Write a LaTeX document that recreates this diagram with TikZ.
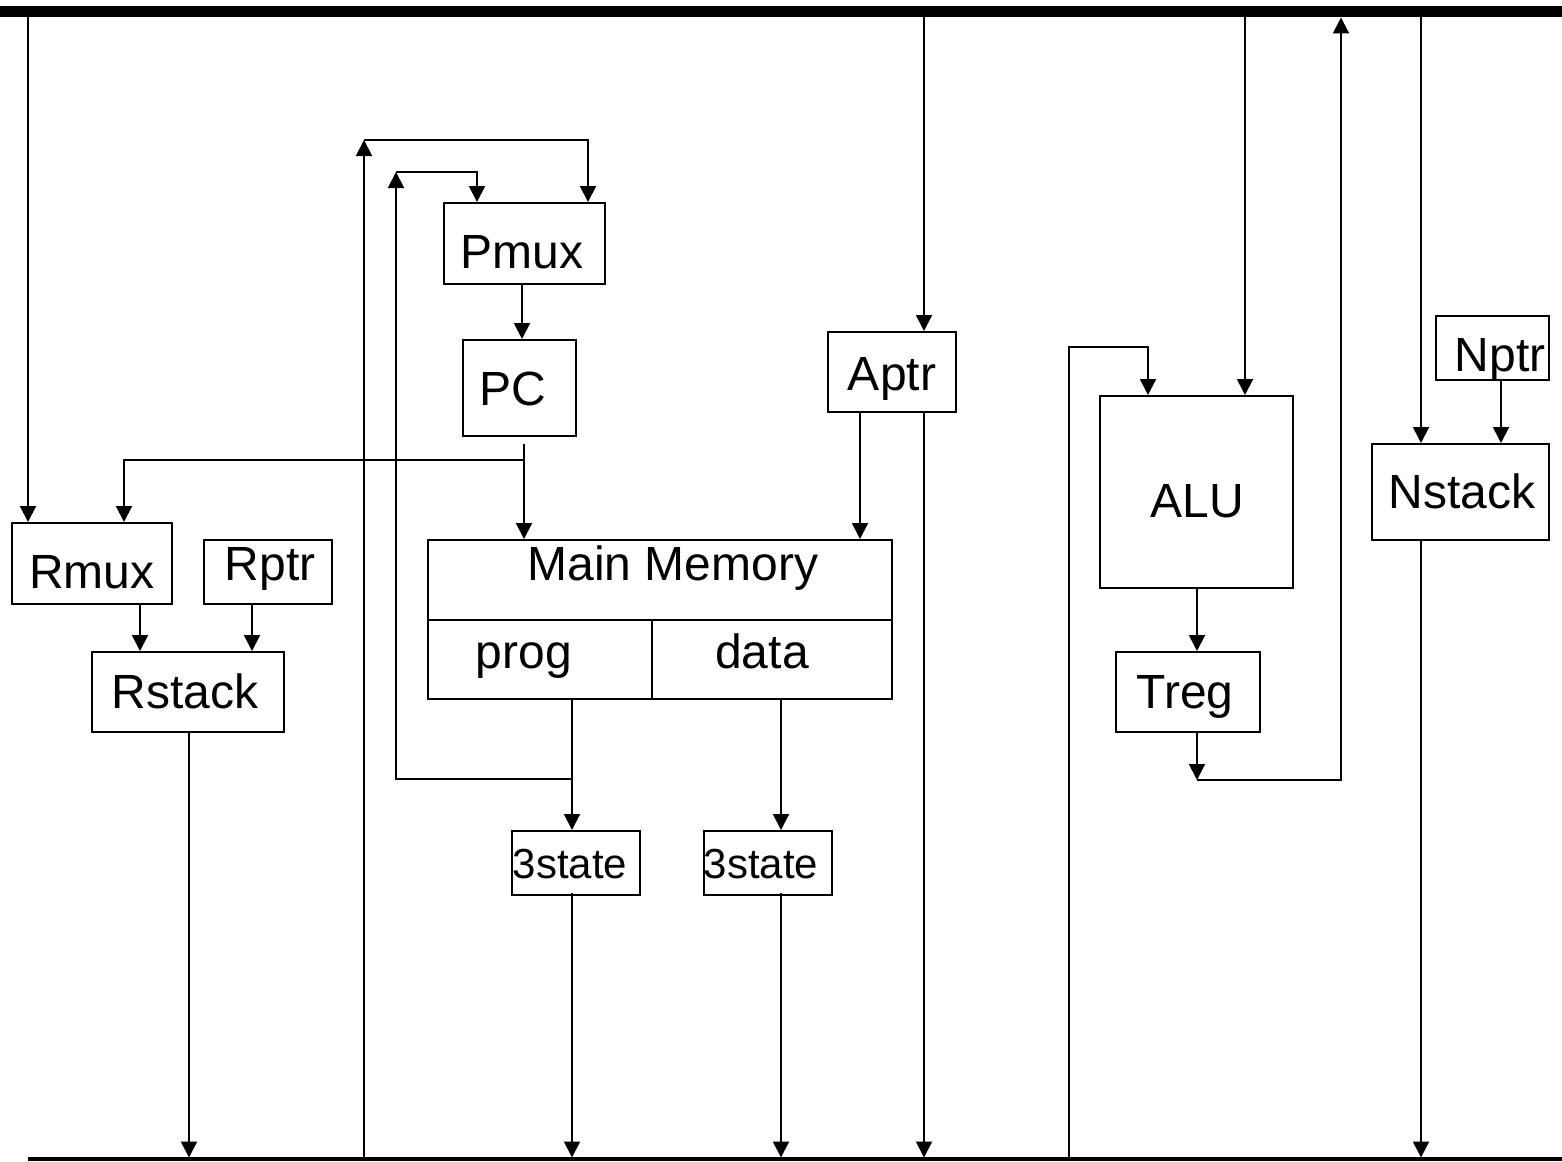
\documentclass[tikz,border=0pt]{standalone}
\usepackage{fontspec}
\setmainfont{Liberation Sans}
\usetikzlibrary{arrows.meta}
\begin{document}
\begin{tikzpicture}[x=0.5pt,y=-0.5pt,
  box/.style={draw,line width=1pt,inner sep=0pt,rectangle},
  lbl/.style={anchor=base,inner sep=0pt,font=\fontsize{24}{29}\selectfont},
  slbl/.style={anchor=base,inner sep=0pt,font=\fontsize{21}{26}\selectfont},
  wire/.style={line width=1pt},
  arr/.style={line width=1pt,-{Triangle[length=8pt,width=8pt]}},
  line join=miter]
\useasboundingbox (0,0) rectangle (1562,1161);
% buses
\draw[line width=5.5pt] (0,12) -- (1562,12);
\draw[line width=2pt] (28,1159) -- (1562,1159);
\coordinate (tb) at (0,17.5);
\coordinate (bb) at (0,1157.5);
% boxes
\node[box,minimum width=80.5pt,minimum height=40.5pt] (pmux) at (524.5,243.5) {};
\node[box,minimum width=56.5pt,minimum height=48pt] (pc) at (519.5,388) {};
\node[box,minimum width=64pt,minimum height=40pt] (aptr) at (892,372) {};
\node[box,minimum width=80pt,minimum height=40.5pt] (rmux) at (92,563.5) {};
\node[box,minimum width=64pt,minimum height=32pt] (rptr) at (268,572) {};
\node[box,minimum width=96pt,minimum height=40pt] (rstack) at (188,692) {};
\node[box,minimum width=232pt,minimum height=79.5pt] (mm) at (660,619.5) {};
\node[box,minimum width=64pt,minimum height=32pt] (ts1) at (576,863) {};
\node[box,minimum width=64pt,minimum height=32pt] (ts2) at (768,863) {};
\node[box,minimum width=96.5pt,minimum height=96pt] (alu) at (1196.5,492) {};
\node[box,minimum width=72pt,minimum height=40pt] (treg) at (1188,692) {};
\node[box,minimum width=56.5pt,minimum height=32pt] (nptr) at (1492.5,348) {};
\node[box,minimum width=88.5pt,minimum height=48pt] (nstack) at (1460.5,492) {};
% labels
\node[lbl] (tpmux) at (522,268) {Pmux};
\node[lbl] (tpc) at (513,405) {PC};
\node[lbl] (taptr) at (892,390) {Aptr};
\node[lbl] (trmux) at (92,588) {Rmux};
\node[lbl] (trptr) at (270,580) {Rptr};
\node[lbl] (trstack) at (185,708) {Rstack};
\node[lbl] (tmm) at (673,580) {Main Memory};
\node[lbl] (tprog) at (524,668) {prog};
\node[lbl] (tdata) at (762,668) {data};
\node[slbl] (tts1) at (570,878) {3state};
\node[slbl] (tts2) at (761,878) {3state};
\node[lbl] (talu) at (1197,517) {ALU};
\node[lbl] (ttreg) at (1185,708) {Treg};
\node[lbl] (tnstack) at (1462,508) {Nstack};
\node[lbl] (tnptr) at (1500,371) {Nptr};
% memory divisions
\draw[wire] (mm.west |- 0,620) -- (mm.east |- 0,620);
\draw[wire] (652,620) -- (652,0 |- mm.south);
% corner coordinates
\coordinate (c1) at (364,140);
\coordinate (c3) at (396,172);
\coordinate (pj) at (572,779);
\coordinate (j1) at (524,460);
\coordinate (tj) at (1197,780);
\coordinate (ac) at (1148,347);
% connectors
\draw[arr] (28,0 |- tb) -- (28,0 |- rmux.north);
\draw[arr,shorten <=3.5pt] (524,0 |- pc.south) -- (524,0 |- mm.north);
\draw[arr] (j1) -| (124,0 |- rmux.north);
\draw[arr] (140,0 |- rmux.south) -- (140,0 |- rstack.north);
\draw[arr] (252,0 |- rptr.south) -- (252,0 |- rstack.north);
\draw[arr] (189,0 |- rstack.south) -- (189,0 |- bb);
\draw[arr] (364,0 |- bb) -- (c1);
\draw[arr] (c1) -| (588,0 |- pmux.north);
\draw[arr] (pj) -| (c3);
\draw[arr] (c3) -| (477,0 |- pmux.north);
\draw[arr] (522,0 |- pmux.south) -- (522,0 |- pc.north);
\draw[arr] (860,0 |- aptr.south) -- (860,0 |- mm.north);
\draw[arr] (924,0 |- tb) -- (924,0 |- aptr.north);
\draw[arr] (924,0 |- aptr.south) -- (924,0 |- bb);
\draw[arr] (572,0 |- mm.south) -- (572,0 |- ts1.north);
\draw[arr,shorten <=-1.5pt] (572,0 |- ts1.south) -- (572,0 |- bb);
\draw[arr] (781,0 |- mm.south) -- (781,0 |- ts2.north);
\draw[arr,shorten <=-1.5pt] (781,0 |- ts2.south) -- (781,0 |- bb);
\draw[arr] (1245,0 |- tb) -- (1245,0 |- alu.north);
\draw[arr] (1069,0 |- bb) |- (ac) -- (1148,0 |- alu.north);
\draw[arr] (1197,0 |- alu.south) -- (1197,0 |- treg.north);
\draw[arr] (1197,0 |- treg.south) -- (tj);
\draw[arr] (tj) -| (1341,0 |- tb);
\draw[arr] (1421,0 |- tb) -- (1421,0 |- nstack.north);
\draw[arr] (1501,0 |- nptr.south) -- (1501,0 |- nstack.north);
\draw[arr] (1421,0 |- nstack.south) -- (1421,0 |- bb);
\end{tikzpicture}
\end{document}
